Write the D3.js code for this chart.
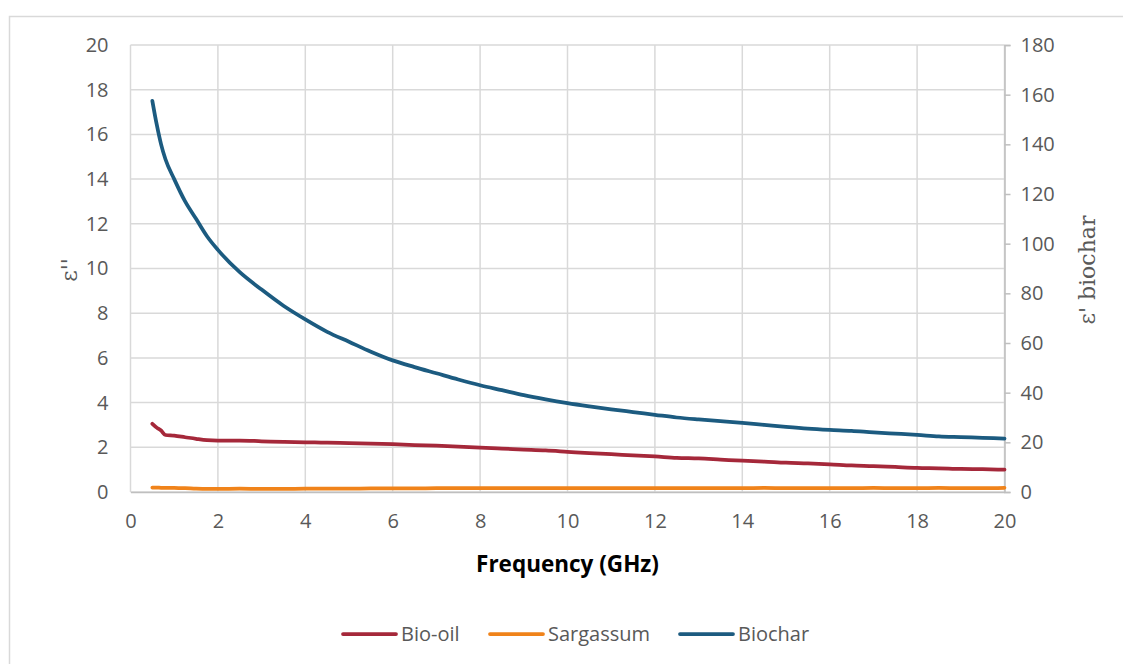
<!DOCTYPE html>
<html><head><meta charset="utf-8">
<script src="https://cdn.jsdelivr.net/npm/d3@7/dist/d3.min.js"></script>
<style>body{margin:0;background:#fff;} svg{display:block;}</style>
</head><body>
<svg id="chart" width="1123" height="664"></svg>
<script>
const freq = [0.5,0.6,0.7,0.8,1,1.25,1.5,1.75,2,2.5,3,3.5,4,4.5,5,5.5,6,6.5,7,7.5,8,8.5,9,9.5,10,10.5,11,11.5,12,12.5,13,13.5,14,14.5,15,15.5,16,16.5,17,17.5,18,18.5,19,19.5,20];
const bioOil = [3.05,2.88,2.75,2.55,2.52,2.45,2.38,2.32,2.30,2.30,2.27,2.24,2.22,2.21,2.19,2.17,2.14,2.10,2.07,2.03,1.98,1.94,1.90,1.86,1.80,1.74,1.69,1.64,1.59,1.53,1.50,1.45,1.40,1.36,1.31,1.28,1.24,1.19,1.16,1.12,1.08,1.06,1.03,1.02,1.00];
const sargassum = [0.20,0.20,0.19,0.19,0.18,0.17,0.15,0.14,0.14,0.15,0.14,0.14,0.15,0.15,0.15,0.16,0.16,0.16,0.17,0.17,0.17,0.17,0.17,0.17,0.17,0.17,0.17,0.17,0.17,0.17,0.17,0.17,0.17,0.18,0.17,0.17,0.17,0.17,0.18,0.17,0.17,0.18,0.17,0.17,0.19];
const biochar = [157.5,148,140,134,126,117,110,103,97.5,88.5,81.5,75,69.5,64.5,60.5,56.5,53,50.3,47.8,45.3,43,41,39,37.3,35.8,34.5,33.3,32.2,31.1,30,29.2,28.5,27.8,27,26.2,25.5,25,24.6,24,23.5,23,22.4,22.1,21.8,21.5];
const xTicks = [0,2,4,6,8,10,12,14,16,18,20];
const yLeftTicks = [0,2,4,6,8,10,12,14,16,18,20];
const yRightTicks = [0,20,40,60,80,100,120,140,160,180];
const seriesNames = ["Bio-oil","Sargassum","Biochar"];
const seriesColors = ["#A5283A","#F0831A","#1C5B80"];

const svg = d3.select("#chart");
const L = 130.5, R = 1004.5, T = 45, B = 492;
const x = d3.scaleLinear().domain([0,20]).range([L,R]);
const yL = d3.scaleLinear().domain([0,20]).range([B,T]);
const yR = d3.scaleLinear().domain([0,180]).range([B,T]);
const grid = "#d9d9d9", txt = "#595959";
const font = "'Open Sans', 'Noto Sans', sans-serif";
const serif = "'DejaVu Serif', 'Liberation Serif', serif";

// outer frame
svg.append("rect").attr("x",9.5).attr("y",16.5).attr("width",1130).attr("height",700)
  .attr("fill","none").attr("stroke",grid).attr("stroke-width",1.5);

// gridlines
svg.append("g").selectAll("line").data(yLeftTicks).join("line")
  .attr("x1",L).attr("x2",R).attr("y1",d=>yL(d)).attr("y2",d=>yL(d))
  .attr("stroke",grid).attr("stroke-width",1.5);
svg.append("g").selectAll("line").data(xTicks).join("line")
  .attr("x1",d=>x(d)).attr("x2",d=>x(d)).attr("y1",T).attr("y2",B)
  .attr("stroke",grid).attr("stroke-width",1.5);

// bottom axis
const xAxis = svg.append("g").attr("transform",`translate(0,${B})`)
  .call(d3.axisBottom(x).tickValues(xTicks).tickSize(0).tickPadding(22).tickFormat(d3.format("d")));
xAxis.select(".domain").attr("stroke","#bfbfbf").attr("stroke-width",1.5);
xAxis.selectAll("text").attr("font-family",font).attr("font-size",20).attr("fill",txt);

// left axis
const yAxisL = svg.append("g").attr("transform",`translate(${L},0)`)
  .call(d3.axisLeft(yL).tickValues(yLeftTicks).tickSize(0).tickPadding(22));
yAxisL.select(".domain").remove();
yAxisL.selectAll("text").attr("font-family",font).attr("font-size",20).attr("fill",txt);

// right axis
const yAxisR = svg.append("g").attr("transform",`translate(${R},0)`)
  .call(d3.axisRight(yR).tickValues(yRightTicks).tickSize(6).tickPadding(10));
yAxisR.select(".domain").attr("stroke","#bfbfbf").attr("stroke-width",1.5);
yAxisR.selectAll(".tick line").attr("stroke","#bfbfbf").attr("stroke-width",1.5);
yAxisR.selectAll("text").attr("font-family",font).attr("font-size",20).attr("fill",txt);

// lines
const lineL = d3.line().x((d,i)=>x(freq[i])).y(d=>yL(d)).curve(d3.curveMonotoneX);
const lineR = d3.line().x((d,i)=>x(freq[i])).y(d=>yR(d)).curve(d3.curveMonotoneX);
svg.append("path").datum(sargassum).attr("d",lineL).attr("fill","none").attr("stroke",seriesColors[1]).attr("stroke-width",3.75).attr("stroke-linecap","round");
svg.append("path").datum(bioOil).attr("d",lineL).attr("fill","none").attr("stroke",seriesColors[0]).attr("stroke-width",3.75).attr("stroke-linecap","round");
svg.append("path").datum(biochar).attr("d",lineR).attr("fill","none").attr("stroke",seriesColors[2]).attr("stroke-width",3.75).attr("stroke-linecap","round");

// axis titles
svg.append("text").attr("x",(L+R)/2).attr("y",572).attr("text-anchor","middle")
  .attr("font-family",font).attr("font-weight","bold").attr("font-size",22.5).attr("fill","#000")
  .text("Frequency (GHz)");
svg.append("text").attr("transform","translate(77,270) rotate(-90)").attr("text-anchor","middle")
  .attr("font-family",serif).attr("font-size",22).attr("fill",txt)
  .text("ε''");
svg.append("text").attr("transform","translate(1095,270) rotate(-90)").attr("text-anchor","middle")
  .attr("font-family",serif).attr("font-size",22).attr("fill",txt)
  .text("ε' biochar");

// legend
const legX = [343,490,680];
const leg = svg.append("g").selectAll("g").data(seriesNames).join("g")
  .attr("transform",(d,i)=>`translate(${legX[i]},634)`);
leg.append("line").attr("x1",0).attr("x2",53).attr("y1",0).attr("y2",0)
  .attr("stroke",(d,i)=>seriesColors[i]).attr("stroke-width",3.75).attr("stroke-linecap","round");
leg.append("text").attr("x",58).attr("y",7).attr("font-family",font).attr("font-size",20).attr("fill",txt).text(d=>d);
</script>
</body></html>
